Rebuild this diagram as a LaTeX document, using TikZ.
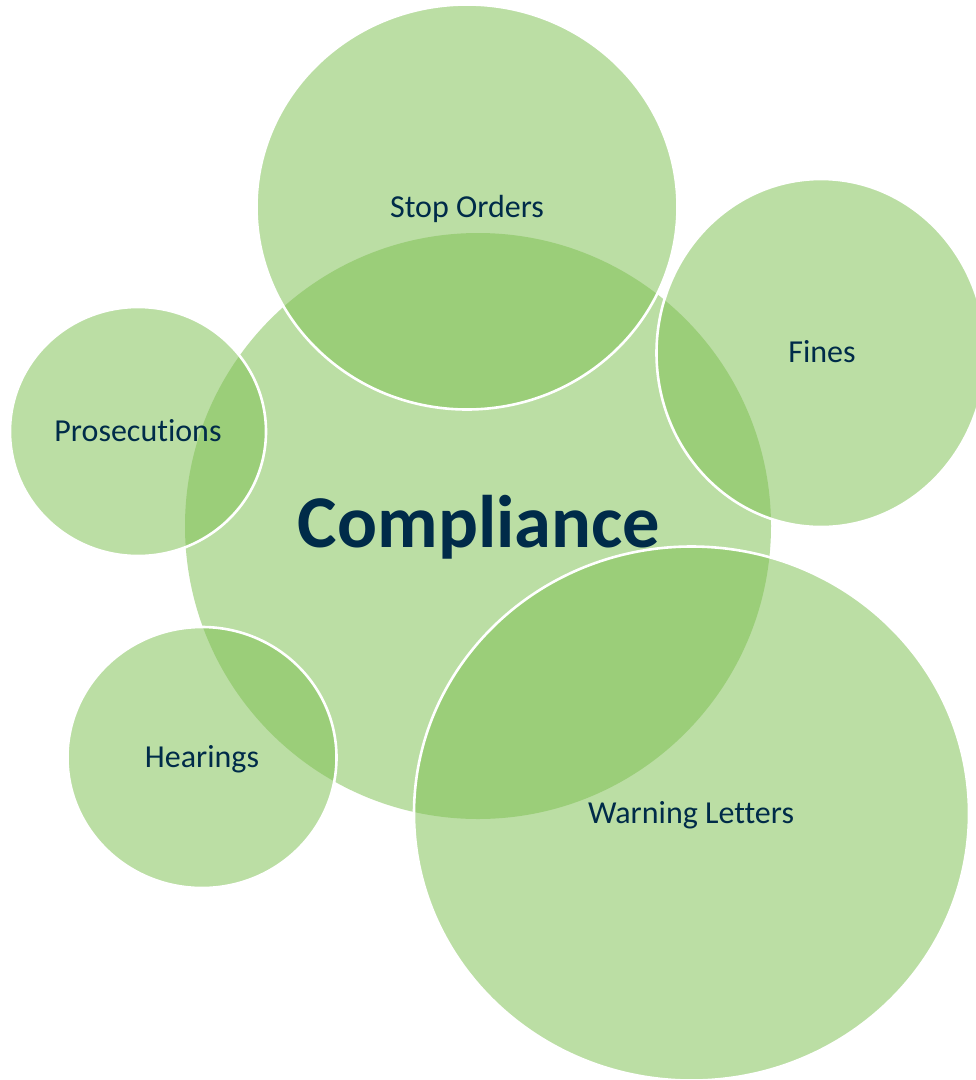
\documentclass[tikz,border=0pt]{standalone}
\usepackage{fontspec}
\setmainfont[Ligatures=NoCommon]{Carlito}
\definecolor{bub}{RGB}{126,192,82}
\definecolor{ink}{RGB}{0,43,73}
\tikzset{
  bubble/.style={fill=bub,fill opacity=0.52,draw=white,draw opacity=1,line width=2.6pt},
  lab/.style={text=ink,font=\fontsize{32}{38}\selectfont,text opacity=1,inner sep=0pt},
  mainlab/.style={text=ink,font=\fontsize{74.5}{86}\selectfont\bfseries,text opacity=1,inner sep=0pt}
}
\begin{document}
\begin{tikzpicture}[x=1pt,y=-1pt]
\useasboundingbox (0,0) rectangle (976,1080);
\clip (0,0) rectangle (976,1080);
\fill[white] (0,0) rectangle (976,1080);
\fill[bub,opacity=0.52] (478,526) circle (293);
\path[bubble] (467,207) ellipse [x radius=210.5,y radius=202.5];
\path[bubble] (821,353) ellipse [x radius=164.5,y radius=174];
\path[bubble] (138,431.5) ellipse [x radius=128,y radius=124.5];
\path[bubble] (202,757.5) ellipse [x radius=134.5,y radius=130.5];
\path[bubble] (691.5,813.5) ellipse [x radius=277.5,y radius=267];
\node[mainlab] (compliance) at (479,527.5) {Compliance};
\node[lab] (stop) at (467,209) {Stop Orders};
\node[lab] (fines) at (822,352) {Fines};
\node[lab] (pros) at (138,431) {Prosecutions};
\node[lab] (hear) at (202,759) {Hearings};
\node[lab] (warn) at (691,815) {Warning Letters};
\end{tikzpicture}
\end{document}
